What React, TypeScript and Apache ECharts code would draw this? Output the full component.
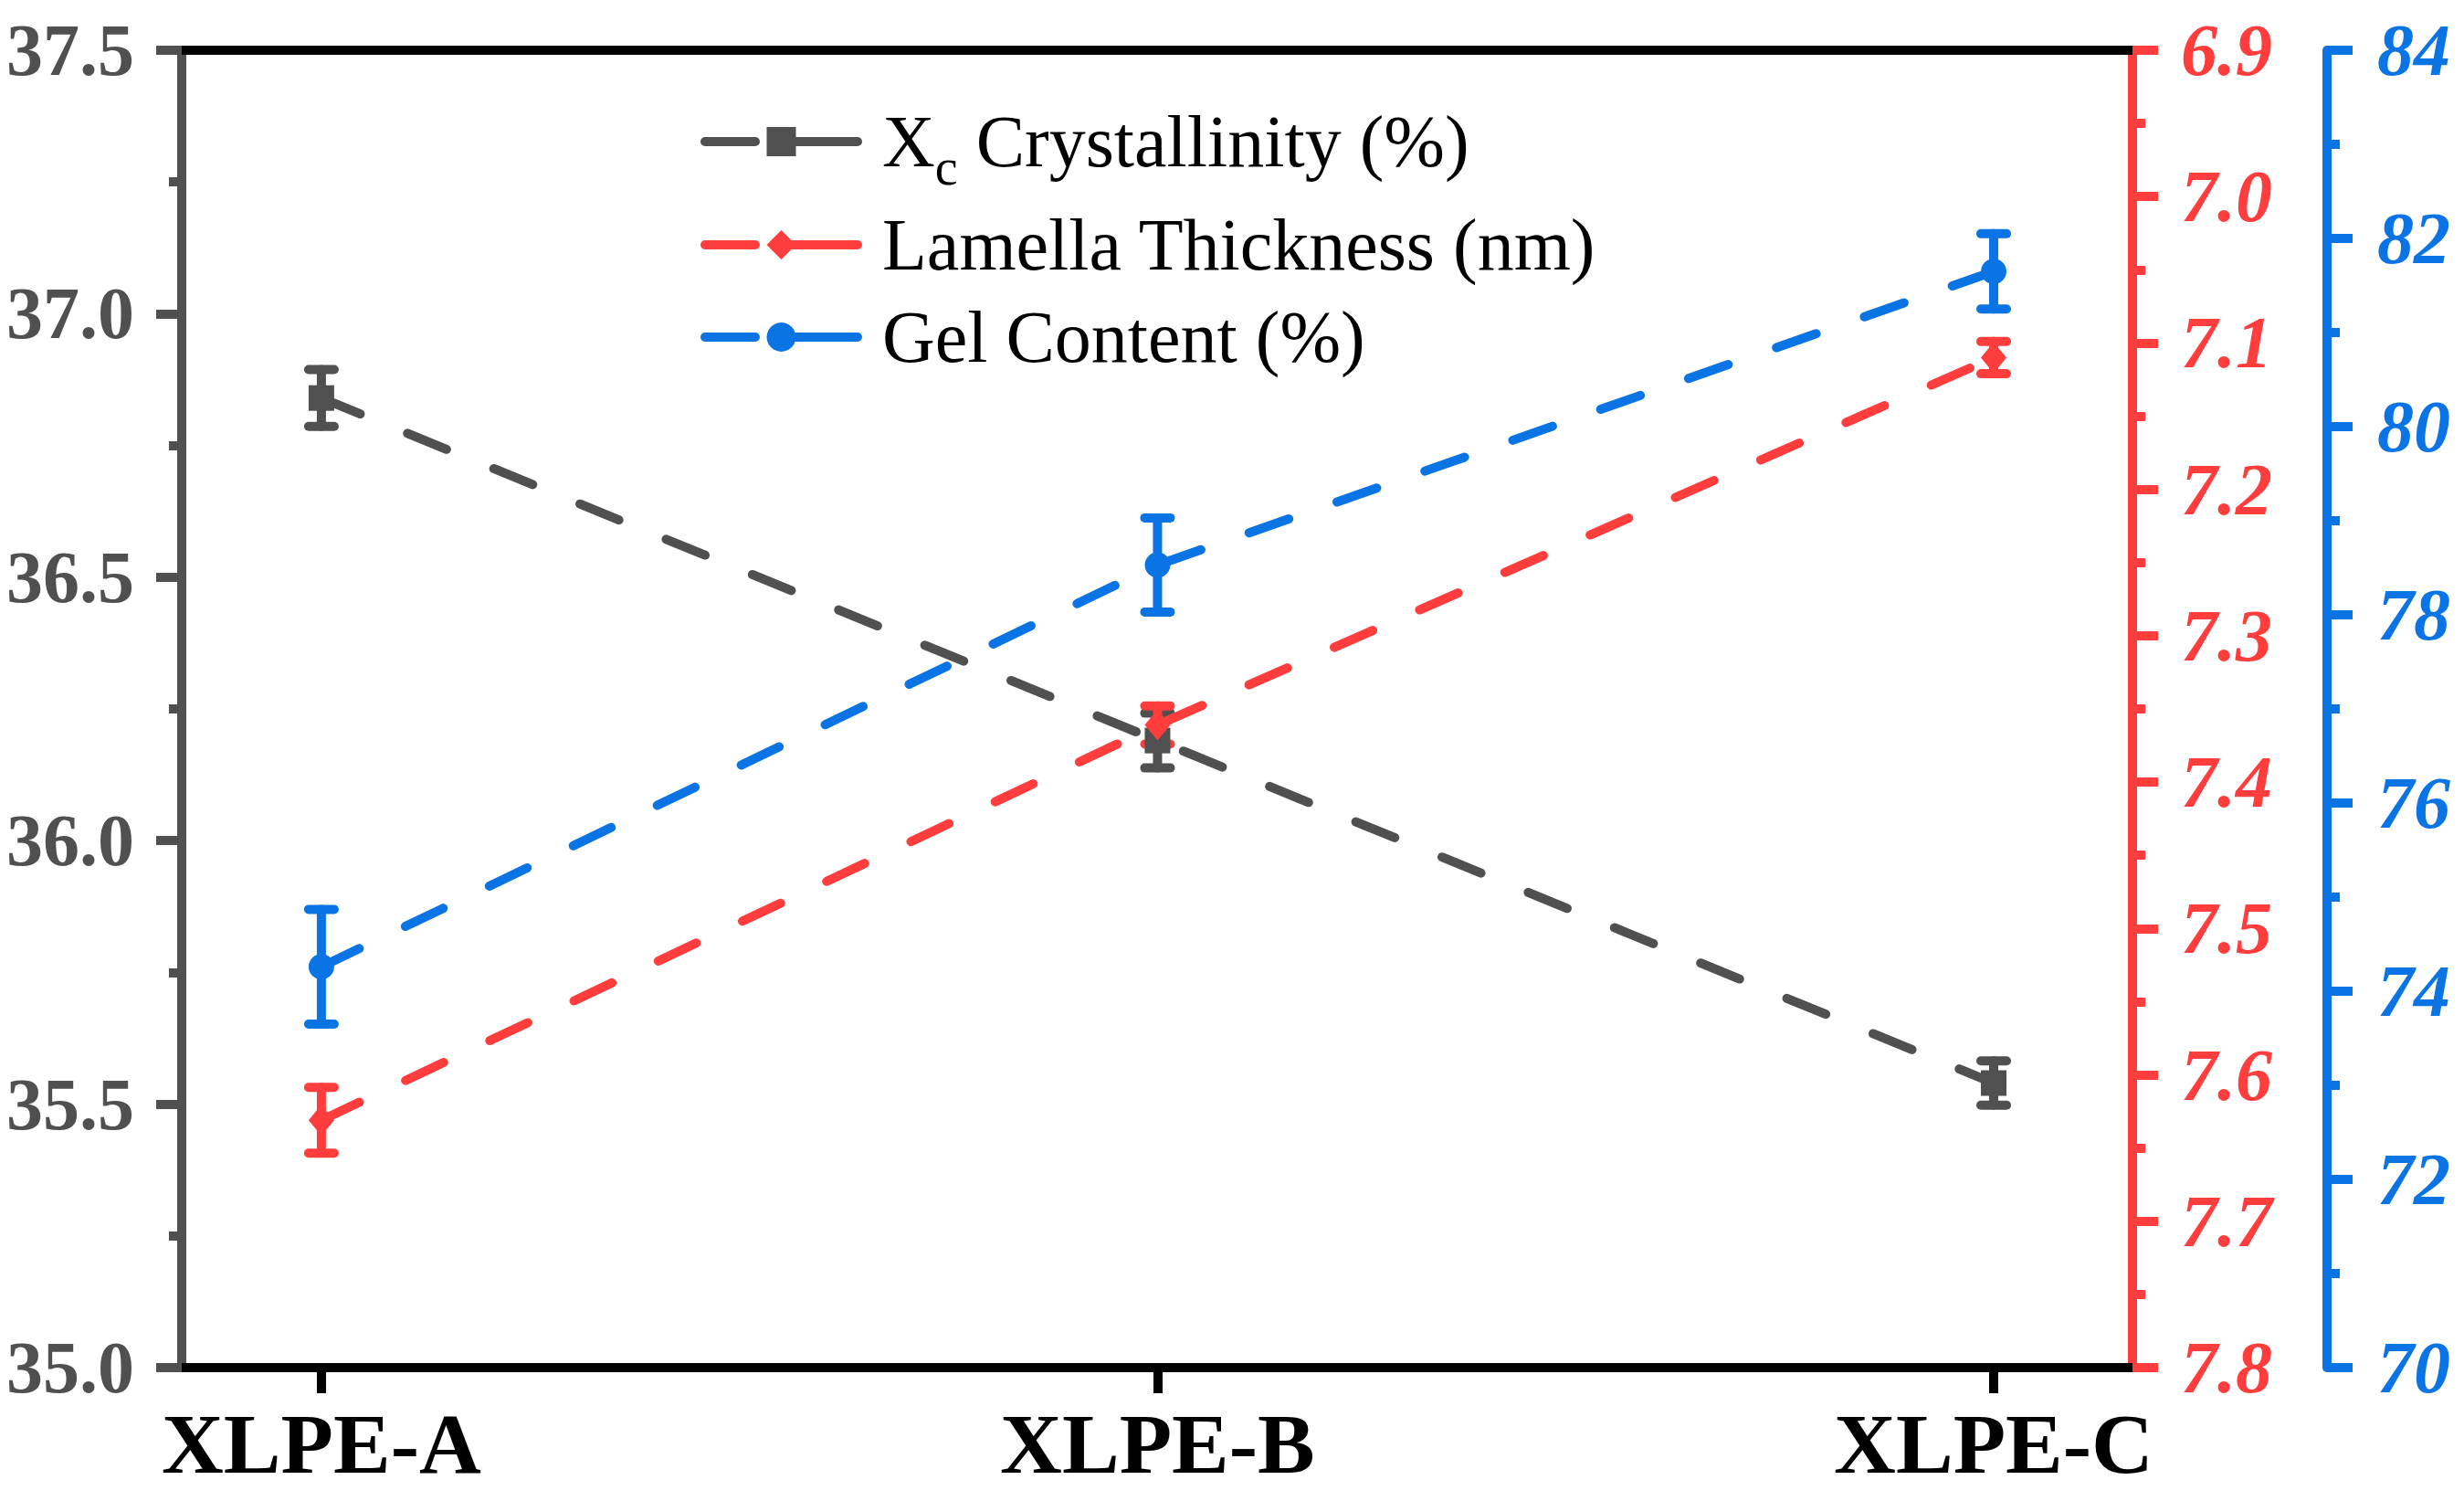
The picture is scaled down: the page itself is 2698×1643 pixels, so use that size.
import { useEffect, useRef } from 'react';
import * as echarts from 'echarts';

// categories and measured values (mean ± error)
const categories = ['XLPE-A', 'XLPE-B', 'XLPE-C'];
const crystallinity = [36.84, 36.19, 35.54];
const crystallinityErr = [0.054, 0.052, 0.042];
const lamella = [7.631, 7.361, 7.11];
const lamellaErr = [0.0225, 0.013, 0.011];
const gel = [74.26, 78.53, 81.65];
const gelErr = [0.61, 0.5, 0.4];

// axis ranges: [min, max, interval]
const crystAxis = [35, 37.5, 0.5];
const lamellaAxis = [6.9, 7.8, 0.1];
const gelAxis = [70, 84, 2];

const names = ['Xc Crystallinity (%)', 'Lamella Thickness (nm)', 'Gel Content (%)'];
const GRAY = '#505050';
const RED = '#ff3d3d';
const BLUE = '#0b74e5';
const FONT = 'Times New Roman, Liberation Serif, serif';

const xs = categories.map((_, i) => i + 1);

function pairs(vals: number[]) {
  return vals.map((v, i) => [xs[i], v]);
}

function errs(vals: number[], e: number[]) {
  return vals.map((v, i) => [xs[i], v - e[i], v + e[i]]);
}

function errorSeries(data: number[][], color: string, yAxisIndex: number) {
  return {
    type: 'custom',
    yAxisIndex,
    data,
    encode: { x: 0, y: [1, 2] },
    z: 3,
    renderItem: (_params: any, api: any) => {
      const x = api.value(0);
      const lo = api.coord([x, api.value(1)]);
      const hi = api.coord([x, api.value(2)]);
      const half = 14;
      const style = { stroke: color, lineWidth: 10, lineCap: 'round' };
      return {
        type: 'group',
        children: [
          { type: 'line', shape: { x1: lo[0], y1: lo[1], x2: hi[0], y2: hi[1] }, style },
          { type: 'line', shape: { x1: lo[0] - half, y1: lo[1], x2: lo[0] + half, y2: lo[1] }, style },
          { type: 'line', shape: { x1: hi[0] - half, y1: hi[1], x2: hi[0] + half, y2: hi[1] }, style },
        ],
      };
    },
  };
}

function valueAxis(range: number[], color: string, position: string, opts: any = {}) {
  return {
    type: 'value',
    position,
    min: range[0],
    max: range[1],
    interval: range[2],
    splitLine: { show: false },
    axisLine: { show: true, onZero: false, lineStyle: { color, width: 10 } },
    axisTick: { show: true, inside: false, length: 28, lineStyle: { color, width: 10 } },
    minorTick: { show: true, splitNumber: 2, length: 14, lineStyle: { color, width: 10 } },
    axisLabel: {
      color,
      fontFamily: FONT,
      fontWeight: 'bold',
      fontSize: 80,
      margin: 52,
      formatter: (v: number) => (range[2] < 1 ? v.toFixed(1) : String(v)),
    },
    ...opts,
  };
}

export default function App() {
  const chartRef = useRef<HTMLDivElement>(null);

  useEffect(() => {
    if (!chartRef.current) return;
    const chart = echarts.init(chartRef.current, null, { renderer: 'svg' });

    const lineStyle = (color: string) => ({ color, width: 10, type: [46, 56], cap: 'round' });

    const option = {
      animation: false,
      backgroundColor: '#ffffff',
      textStyle: { fontFamily: FONT },
      grid: { left: 199, right: 363, top: 55, bottom: 146 },
      legend: {
        data: names,
        orient: 'vertical',
        left: 762,
        top: 94,
        itemGap: 13,
        itemWidth: 167,
        itemHeight: 40,
        lineStyle: { width: 10, type: [55, 40, 80], cap: 'round' },
        textStyle: {
          fontFamily: FONT,
          fontSize: 80,
          color: '#000',
          lineHeight: 88,
          rich: {
            gap: { width: 22, lineHeight: 88 },
            m: { fontFamily: FONT, fontSize: 80, lineHeight: 88, color: '#000' },
            sub: { fontFamily: FONT, fontSize: 56, lineHeight: 60, padding: [56, 0, 0, 0], color: '#000' },
          },
        },
        formatter: (name: string) =>
          name === names[0]
            ? '{gap|}{m|X}{sub|c}{m| Crystallinity (%)}'
            : '{gap|}{m|' + name + '}',
      },
      xAxis: [
        {
          type: 'value',
          position: 'bottom',
          min: 0.833,
          max: 3.166,
          splitLine: { show: false },
          axisLine: { show: true, onZero: false, lineStyle: { color: '#000', width: 10 } },
          axisTick: { show: true, inside: false, length: 28, customValues: xs, lineStyle: { color: '#000', width: 10 } },
          axisLabel: {
            customValues: xs,
            color: '#000',
            fontFamily: FONT,
            fontWeight: 'bold',
            fontSize: 94,
            margin: 36,
            formatter: (v: number) => categories[Math.round(v) - 1] ?? '',
          },
        },
        {
          type: 'value',
          position: 'top',
          min: 0.833,
          max: 3.166,
          splitLine: { show: false },
          axisLine: { show: true, onZero: false, lineStyle: { color: '#000', width: 10 } },
          axisTick: { show: false },
          axisLabel: { show: false },
        },
      ],
      yAxis: [
        valueAxis(crystAxis, GRAY, 'left'),
        valueAxis(lamellaAxis, RED, 'right', {
          inverse: true,
          axisLabel: {
            color: RED,
            fontFamily: FONT,
            fontWeight: 'bold',
            fontStyle: 'italic',
            fontSize: 80,
            margin: 53,
            formatter: (v: number) => v.toFixed(1),
          },
        }),
        valueAxis(gelAxis, BLUE, 'right', {
          offset: 213,
          axisLabel: {
            color: BLUE,
            fontFamily: FONT,
            fontWeight: 'bold',
            fontStyle: 'italic',
            fontSize: 80,
            margin: 55,
            formatter: (v: number) => String(v),
          },
        }),
      ],
      series: [
        {
          name: names[0],
          type: 'line',
          yAxisIndex: 0,
          data: pairs(crystallinity),
          symbol: 'rect',
          symbolSize: 28,
          itemStyle: { color: GRAY },
          lineStyle: lineStyle(GRAY),
          z: 4,
        },
        errorSeries(errs(crystallinity, crystallinityErr), GRAY, 0),
        {
          name: names[1],
          type: 'line',
          yAxisIndex: 1,
          data: pairs(lamella),
          symbol: 'diamond',
          symbolSize: [28, 34],
          itemStyle: { color: RED },
          lineStyle: lineStyle(RED),
          z: 4,
        },
        errorSeries(errs(lamella, lamellaErr), RED, 1),
        {
          name: names[2],
          type: 'line',
          yAxisIndex: 2,
          data: pairs(gel),
          symbol: 'circle',
          symbolSize: 28,
          itemStyle: { color: BLUE },
          lineStyle: lineStyle(BLUE),
          z: 4,
        },
        errorSeries(errs(gel, gelErr), BLUE, 2),
      ],
    };

    chart.setOption(option as any);

    return () => {
      chart.dispose();
    };
  }, []);

  return (
    <div
      ref={chartRef}
      style={{ position: 'absolute', left: 0, top: 0, width: 2698, height: 1643 }}
    ></div>
  );
}
